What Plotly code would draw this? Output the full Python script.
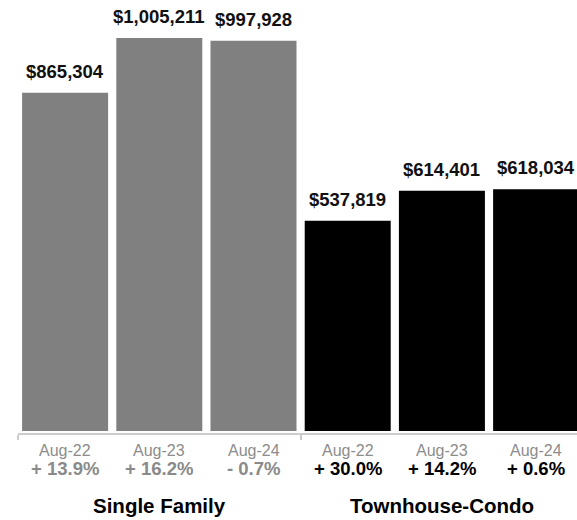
import plotly.graph_objects as go

# Median sales price by property type, August of each year
groups = ["Single Family", "Townhouse-Condo"]
periods = ["Aug-22", "Aug-23", "Aug-24"]
single_family = [865304, 1005211, 997928]
townhouse_condo = [537819, 614401, 618034]
sf_change = [13.9, 16.2, -0.7]
tc_change = [30.0, 14.2, 0.6]

FONT = "Liberation Sans, Arial, Helvetica, sans-serif"
SF_COLOR = "#808080"
TC_COLOR = "#000000"

values = single_family + townhouse_condo
changes = sf_change + tc_change
labels = periods + periods
colors = [SF_COLOR] * 3 + [TC_COLOR] * 3
pct_colors = ["#8a8a8a"] * 3 + ["#000000"] * 3
xs = list(range(len(values)))

fig = go.Figure(go.Bar(
    x=xs, y=values, marker=dict(color=colors, line=dict(width=0)),
    hoverinfo="skip",
))


def fmt_change(c):
    sign = "+" if c >= 0 else "-"
    return f"{sign} {abs(c):.1f}%"


ann = []
for x, v, lab, c, pc in zip(xs, values, labels, changes, pct_colors):
    ann.append(dict(x=x, y=v, xref="x", yref="y", text=f"<b>${v:,}</b>",
                    showarrow=False, yanchor="bottom", yshift=9,
                    font=dict(family=FONT, size=18.5, color="#111")))
    ann.append(dict(x=x, y=0, xref="x", yref="paper", text=lab,
                    showarrow=False, yanchor="middle", yshift=-17,
                    font=dict(family=FONT, size=16, color="#8c8c8c")))
    ann.append(dict(x=x, y=0, xref="x", yref="paper", text=f"<b>{fmt_change(c)}</b>",
                    showarrow=False, yanchor="middle", yshift=-35,
                    font=dict(family=FONT, size=18.5, color=pc)))

for gi, g in enumerate(groups):
    ann.append(dict(x=gi * 3 + 1, y=0, xref="x", yref="paper", text=f"<b>{g}</b>",
                    showarrow=False, yanchor="middle", yshift=-72,
                    font=dict(family=FONT, size=20.5, color="#000")))

fig.update_layout(
    width=577, height=520,
    margin=dict(l=18, r=0, t=0, b=87),
    paper_bgcolor="white", plot_bgcolor="white",
    bargap=0.087, showlegend=False,
    annotations=ann,
    xaxis=dict(range=[-0.5, 5.434], showgrid=False, zeroline=False,
               showline=True, linecolor="#cccccc", linewidth=2,
               ticks="outside", tickvals=[-0.5, 2.5], ticklen=5,
               tickwidth=2, tickcolor="#cccccc", showticklabels=False),
    yaxis=dict(range=[-5116, 1102400], visible=False, showgrid=False,
               zeroline=False),
)

fig.write_html("out.html")
